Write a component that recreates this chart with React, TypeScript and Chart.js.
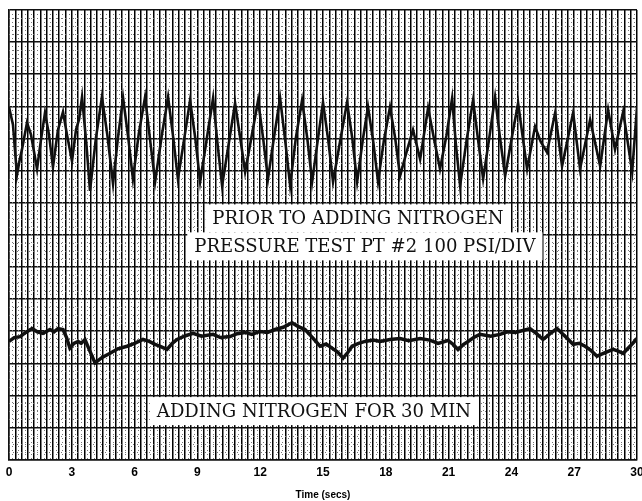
import React, { useEffect, useRef } from "react";
import { Chart, registerables } from "chart.js";
Chart.register(...registerables);

// x tick labels every 3 seconds
const tickLabelSeconds = [0, 3, 6, 9, 12, 15, 18, 21, 24, 27, 30];

// Upper trace: prior to adding nitrogen (time in s, pressure in PSI, 100 PSI/div)
const priorTime = [0, 0.19, 0.38, 0.5, 0.62, 0.86, 1.05, 1.34, 1.53, 1.72, 1.91, 2.1, 2.34, 2.58, 2.77, 3.01, 3.2, 3.35, 3.49, 3.7, 3.87, 4.15, 4.44, 4.7, 4.97, 5.2, 5.45, 5.7, 5.92, 6.2, 6.5, 6.75, 6.98, 7.3, 7.6, 7.85, 8.07, 8.35, 8.65, 8.9, 9.13, 9.45, 9.75, 9.95, 10.18, 10.5, 10.8, 11.05, 11.28, 11.6, 11.9, 12.15, 12.37, 12.65, 12.95, 13.2, 13.43, 13.7, 14.0, 14.25, 14.48, 14.75, 15.0, 15.25, 15.48, 15.8, 16.15, 16.4, 16.63, 16.9, 17.15, 17.4, 17.63, 17.9, 18.2, 18.45, 18.68, 19.0, 19.3, 19.64, 20.02, 20.3, 20.59, 20.9, 21.17, 21.35, 21.55, 21.85, 22.17, 22.4, 22.65, 22.95, 23.22, 23.45, 23.7, 24.0, 24.32, 24.55, 24.75, 25.13, 25.4, 25.7, 26.09, 26.42, 26.95, 27.28, 27.76, 28.24, 28.62, 28.95, 29.34, 29.77, 30];
const priorPsi = [1098, 1043, 886, 930, 966, 1049, 1012, 905, 997, 1080, 1012, 911, 1027, 1083, 1012, 929, 1027, 1060, 1129, 980, 837, 1000, 1129, 1010, 859, 1000, 1126, 1000, 874, 1015, 1129, 990, 865, 1010, 1129, 1000, 874, 990, 1119, 1000, 865, 1000, 1126, 990, 853, 985, 1110, 1000, 896, 1010, 1119, 995, 874, 1000, 1126, 990, 853, 1000, 1119, 1000, 865, 995, 1113, 995, 865, 985, 1113, 1000, 865, 995, 1098, 990, 865, 990, 1098, 1000, 883, 960, 1027, 935, 1095, 1000, 905, 1010, 1126, 980, 853, 990, 1119, 1000, 874, 1005, 1129, 1005, 883, 995, 1110, 1000, 905, 1037, 990, 957, 1080, 914, 1080, 905, 1058, 914, 1089, 966, 1083, 896, 1098];

// Lower trace: adding nitrogen for 30 min
const addingTime = [0, 0.25, 0.53, 0.8, 1.1, 1.35, 1.62, 1.96, 2.15, 2.34, 2.58, 2.75, 2.91, 3.1, 3.3, 3.45, 3.63, 3.85, 4.11, 4.45, 4.83, 5.2, 5.64, 6.0, 6.4, 6.7, 6.98, 7.25, 7.55, 7.8, 8.03, 8.4, 8.79, 9.2, 9.75, 10.1, 10.56, 10.9, 11.28, 11.6, 11.99, 12.35, 12.71, 13.1, 13.52, 13.8, 14.14, 14.5, 14.86, 15.15, 15.43, 15.7, 15.96, 16.2, 16.39, 16.7, 17.01, 17.4, 17.73, 18.2, 18.68, 19.1, 19.64, 20.1, 20.5, 20.97, 21.2, 21.45, 21.7, 21.93, 22.2, 22.5, 23.0, 23.46, 23.8, 24.18, 24.55, 24.89, 25.2, 25.51, 25.85, 26.18, 26.55, 26.95, 27.25, 27.52, 27.8, 28.09, 28.45, 28.86, 29.1, 29.34, 29.7, 30];
const addingPsi = [368, 380, 383, 396, 408, 398, 393, 405, 398, 408, 405, 380, 347, 362, 368, 362, 374, 340, 301, 318, 331, 345, 353, 362, 374, 368, 359, 352, 343, 362, 374, 385, 393, 384, 390, 380, 383, 392, 396, 390, 399, 396, 405, 412, 426, 415, 405, 380, 353, 360, 347, 335, 316, 335, 353, 362, 368, 372, 368, 374, 377, 370, 377, 372, 362, 371, 360, 343, 358, 368, 380, 390, 384, 390, 398, 396, 402, 408, 392, 374, 392, 408, 385, 359, 362, 353, 340, 322, 332, 343, 338, 331, 355, 377];

const noteLines = ["PRIOR TO ADDING NITROGEN", "PRESSURE TEST PT #2 100 PSI/DIV", "ADDING NITROGEN FOR 30 MIN"];
const noteAnchors = [
  { t: 16.67, psi: 751 },
  { t: 17.0, psi: 664 },
  { t: 14.57, psi: 151 },
];

const minorGridPlugin = {
  id: "minorGrid",
  beforeDatasetsDraw(chart: any) {
    const { ctx, chartArea, scales } = chart;
    const x = scales.x;
    const y = scales.y;
    ctx.save();
    ctx.strokeStyle = "#777";
    ctx.lineWidth = 1;
    ctx.setLineDash([1, 3]);
    ctx.beginPath();
    for (let i = 0; i < 100; i++) {
      const px = Math.round(x.getPixelForValue(i * 0.3 + 0.15)) + 0.5;
      ctx.moveTo(px, chartArea.top);
      ctx.lineTo(px, chartArea.bottom);
    }
    for (let k = 0; k < 14 * 4; k++) {
      if (k % 4 === 0) continue;
      const py = Math.round(y.getPixelForValue(k * 25)) + 0.5;
      ctx.moveTo(chartArea.left, py);
      ctx.lineTo(chartArea.right, py);
    }
    ctx.stroke();
    ctx.restore();
  },
};

const notesPlugin = {
  id: "notes",
  afterDatasetsDraw(chart: any) {
    const { ctx, scales } = chart;
    ctx.save();
    ctx.font = '19px "DejaVu Serif"';
    ctx.textAlign = "center";
    ctx.textBaseline = "middle";
    noteLines.forEach((text, i) => {
      const a = noteAnchors[i];
      const cx = scales.x.getPixelForValue(a.t);
      const cy = scales.y.getPixelForValue(a.psi);
      const w = ctx.measureText(text).width * 0.95;
      ctx.fillStyle = "#fff";
      ctx.fillRect(cx - w / 2 - 7, cy - 14, w + 14, 28);
      ctx.fillStyle = "#111";
      ctx.fillText(text, cx, cy + 1, w);
    });
    ctx.restore();
  },
};

export default function App() {
  const ref = useRef<HTMLCanvasElement>(null);
  useEffect(() => {
    if (!ref.current) return;
    const chart = new Chart(ref.current, {
      type: "line",
      data: {
        datasets: [
          {
            label: "Prior to adding nitrogen",
            data: priorTime.map((t, i) => ({ x: t, y: priorPsi[i] })),
            borderColor: "#111",
            borderWidth: 2.6,
            pointRadius: 0,
            tension: 0,
          },
          {
            label: "Adding nitrogen for 30 min",
            data: addingTime.map((t, i) => ({ x: t, y: addingPsi[i] })),
            borderColor: "#111",
            borderWidth: 3.5,
            pointRadius: 0,
            tension: 0,
          },
        ],
      },
      options: {
        animation: false,
        responsive: true,
        maintainAspectRatio: false,
        layout: { padding: { left: 9, right: 5, top: 10, bottom: 0 } },
        plugins: {
          legend: { display: false },
          tooltip: { enabled: false },
        },
        scales: {
          x: {
            type: "linear",
            min: 0,
            max: 30,
            afterFit: (scale: any) => {
              scale.paddingLeft = 0;
              scale.paddingRight = 0;
            },
            ticks: {
              stepSize: 0.3,
              autoSkip: false,
              maxRotation: 0,
              padding: 6,
              color: "#000",
              font: { family: '"Liberation Sans", Arial, sans-serif', size: 12, weight: "bold" },
              callback: (v: any) => {
                const r = Math.round(v);
                return Math.abs(v - r) < 1e-6 && tickLabelSeconds.includes(r) ? String(r) : "";
              },
            },
            grid: { color: "#000", lineWidth: 1.5, drawTicks: false },
            border: { color: "#111", width: 1.5 },
            title: {
              display: true,
              text: "Time (secs)",
              color: "#000",
              font: { family: '"Liberation Sans", Arial, sans-serif', size: 10, weight: "bold" },
              padding: { top: 3, bottom: 0 },
            },
          },
          y: {
            min: 0,
            max: 1400,
            ticks: { display: false, stepSize: 100 },
            grid: { color: "#111", lineWidth: 1.5, drawTicks: false },
            border: { color: "#111", width: 1.5 },
          },
        },
      },
      plugins: [minorGridPlugin, notesPlugin],
    } as any);
    return () => chart.destroy();
  }, []);
  return (
    <div style={{ position: "fixed", left: 0, top: 0, width: 642, height: 501, background: "#fff" }}>
      <canvas ref={ref} />
    </div>
  );
}
